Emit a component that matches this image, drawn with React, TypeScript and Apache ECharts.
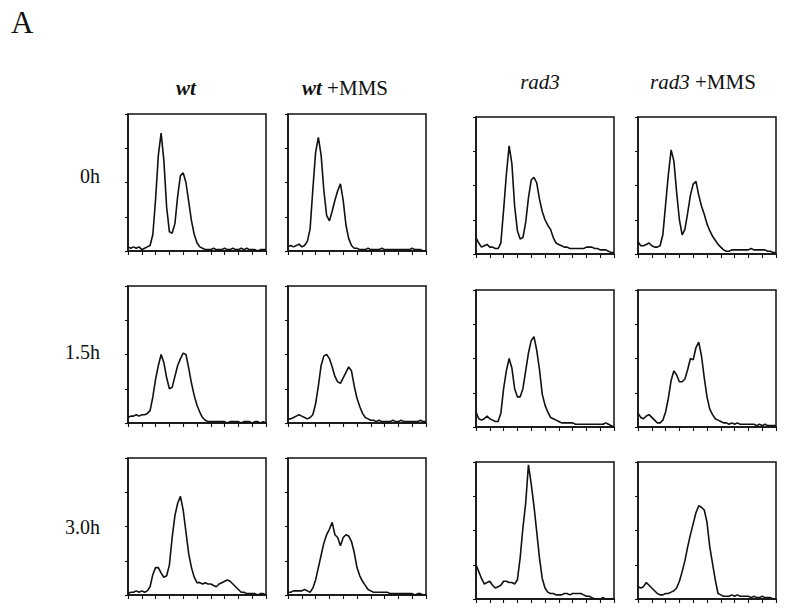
import React, { useEffect, useRef } from "react";
import * as echarts from "echarts";

const BINS = [0, 2, 4, 6, 8, 10, 12, 14, 16, 18, 20, 22, 24, 26, 28, 30, 32, 34, 36, 38, 40, 42, 44, 46, 48, 50, 52, 54, 56, 58, 60, 62, 64, 66, 68, 70, 72, 74, 76, 78, 80, 82, 84, 86, 88, 90, 92, 94, 96, 98, 100];

const COLUMN_STRAIN = ["wt", "wt", "rad3", "rad3"];
const COLUMN_SUFFIX = ["", "+MMS", "", "+MMS"];
const ROW_LABELS = ["0h", "1.5h", "3.0h"];

// row 0h
const WT_0H = [3,2,3,2,3,1,2,3,4,12, 38,70,86,66,32,14,13,20,40,55, 57,50,36,22,12,6,3,2,1,1, 1,2,1,1,1,2,1,1,2,1, 1,2,1,2,1,1,1,0,1,1, 1];
const WTMMS_0H = [3,4,3,4,5,3,4,7,16,45, 72,83,70,44,26,22,29,37,44,49, 37,19,9,4,2,2,1,1,1,2, 1,1,1,1,2,1,1,1,1,1, 1,1,1,1,1,2,1,1,1,0, 0];
const RAD3_0H = [12,8,5,6,7,5,5,4,4,8, 32,58,79,66,35,17,11,12,23,41, 54,56,52,40,31,25,21,18,12,8, 7,6,5,5,4,4,4,4,4,4, 5,5,5,4,4,3,3,3,2,1, 1];
const RAD3MMS_0H = [9,6,6,7,8,6,5,5,6,14, 36,58,76,68,45,25,14,18,30,43, 51,53,43,35,29,22,17,13,10,7, 5,3,2,2,3,3,3,3,3,3, 3,4,3,3,3,3,3,2,2,1, 1];
// row 1.5h
const WT_15H = [4,5,5,6,5,6,6,7,9,19, 32,42,50,44,33,25,26,34,42,47, 51,50,40,29,20,13,8,4,2,1, 1,1,1,1,1,1,0,1,1,1, 1,0,1,1,1,0,1,1,0,1, 0];
const WTMMS_15H = [3,3,4,5,6,5,4,3,4,6, 14,27,42,49,50,47,41,34,30,29, 33,37,41,38,27,18,12,7,4,3, 2,2,1,2,1,1,1,1,2,1, 1,2,1,1,1,1,1,1,2,1, 1];
const RAD3_15H = [11,6,5,6,8,6,5,4,4,10, 28,41,50,43,28,22,22,28,41,54, 63,66,56,42,24,16,11,7,6,5, 4,3,3,3,3,3,2,2,2,2, 2,2,2,2,2,2,2,3,2,1, 0];
const RAD3MMS_15H = [10,7,6,8,9,7,5,3,3,5, 11,21,34,41,38,33,33,35,42,50, 49,58,62,52,36,22,13,9,6,5, 4,3,3,2,3,2,3,2,2,2, 2,2,2,1,2,1,2,1,1,1, 1];
// row 3.0h
const WT_30H = [1,2,2,3,2,3,2,3,6,15, 20,20,16,13,14,22,42,58,67,72, 62,46,30,20,13,9,9,8,9,8, 8,7,6,8,9,10,11,10,8,6, 4,2,2,1,1,1,1,0,1,1, 0];
const WTMMS_30H = [2,2,3,3,3,3,4,3,2,5, 11,20,29,38,44,48,53,44,42,36, 42,44,43,39,31,20,14,10,7,4, 3,2,2,2,2,2,2,1,1,1, 1,1,1,1,1,1,0,1,1,0, 0];
const RAD3_30H = [25,20,15,11,12,13,10,8,9,10, 13,13,12,12,11,14,30,52,70,98, 84,68,49,30,15,8,5,4,4,3, 3,3,4,4,3,4,4,4,4,3, 2,2,1,0,0,0,1,0,0,0, 0];
const RAD3MMS_30H = [9,8,9,12,10,8,6,4,3,3, 4,4,5,6,8,13,20,28,38,47, 55,63,68,67,65,56,38,26,14,4, 3,2,2,2,3,2,3,2,2,2, 2,1,2,1,1,2,1,1,1,0, 0];

const PANELS = [
  [WT_0H, WTMMS_0H, RAD3_0H, RAD3MMS_0H],
  [WT_15H, WTMMS_15H, RAD3_15H, RAD3MMS_15H],
  [WT_30H, WTMMS_30H, RAD3_30H, RAD3MMS_30H],
];

const FONT = "'Liberation Serif', 'DejaVu Serif', serif";
const INK = "#111";

export default function App() {
  const ref = useRef<HTMLDivElement>(null);

  useEffect(() => {
    document.body.style.margin = "0";
    if (!ref.current) return;
    const chart = echarts.init(ref.current, undefined, { renderer: "svg" });

    const colLeft = [128, 288, 476, 638];
    const colWidth = 138;
    const rowTopA = [114, 286, 458];
    const rowTopB = [117, 290, 462];
    const height = 137;

    const grids: any[] = [];
    const xAxes: any[] = [];
    const yAxes: any[] = [];
    const series: any[] = [];

    PANELS.forEach((row, r) => {
      row.forEach((vals, c) => {
        const idx = grids.length;
        grids.push({
          left: colLeft[c],
          top: c < 2 ? rowTopA[r] : rowTopB[r],
          width: colWidth,
          height,
          show: true,
          borderColor: INK,
          borderWidth: 1.5,
          backgroundColor: "transparent",
          containLabel: false,
        });
        xAxes.push({
          gridIndex: idx,
          type: "value",
          min: 0,
          max: 100,
          interval: 10,
          axisLine: { show: true, lineStyle: { color: INK, width: 1.5 } },
          axisTick: { show: true, inside: false, length: 4, lineStyle: { color: INK, width: 1.1 } },
          axisLabel: { show: false },
          splitLine: { show: false },
        });
        yAxes.push({
          gridIndex: idx,
          type: "value",
          min: 0,
          max: 100,
          interval: 25,
          axisLine: { show: true, lineStyle: { color: INK, width: 1.5 } },
          axisTick: { show: true, inside: false, length: 3, lineStyle: { color: INK, width: 1.1 } },
          axisLabel: { show: false },
          splitLine: { show: false },
        });
        series.push({
          type: "line",
          xAxisIndex: idx,
          yAxisIndex: idx,
          data: BINS.map((b, i) => [b, vals[i]]),
          showSymbol: false,
          symbol: "none",
          smooth: false,
          lineStyle: { color: INK, width: 1.6 },
          silent: true,
        });
      });
    });

    const headerX = [186, 345, 540, 703];
    const headerY = [88, 88, 82, 82];
    const graphics: any[] = [
      {
        type: "text",
        x: 11,
        y: 22,
        style: { text: "A", font: `31px ${FONT}`, fill: INK, verticalAlign: "middle" },
      },
    ];
    COLUMN_STRAIN.forEach((s, c) => {
      const suffix = COLUMN_SUFFIX[c];
      graphics.push({
        type: "text",
        x: headerX[c],
        y: headerY[c],
        style: {
          text: suffix ? `{i|${s}} {n|${suffix}}` : `{i|${s}}`,
          align: "center",
          verticalAlign: "middle",
          fill: INK,
          font: `21px ${FONT}`,
          rich: {
            i: { fontFamily: FONT, fontSize: 21, fontStyle: "italic", fontWeight: s === "wt" ? "bold" : "normal", fill: INK },
            n: { fontFamily: FONT, fontSize: 21, fill: INK },
          },
        },
      });
    });
    const rowY = [176, 352, 527];
    ROW_LABELS.forEach((t, r) => {
      graphics.push({
        type: "text",
        x: 100,
        y: rowY[r],
        style: {
          text: t,
          align: "right",
          verticalAlign: "middle",
          font: `20px ${FONT}`,
          fill: INK,
        },
      });
    });

    chart.setOption({
      animation: false,
      backgroundColor: "#fff",
      grid: grids,
      xAxis: xAxes,
      yAxis: yAxes,
      series,
      graphic: graphics,
    });

    return () => chart.dispose();
  }, []);

  return <div ref={ref} style={{ width: 800, height: 613 }} />;
}
